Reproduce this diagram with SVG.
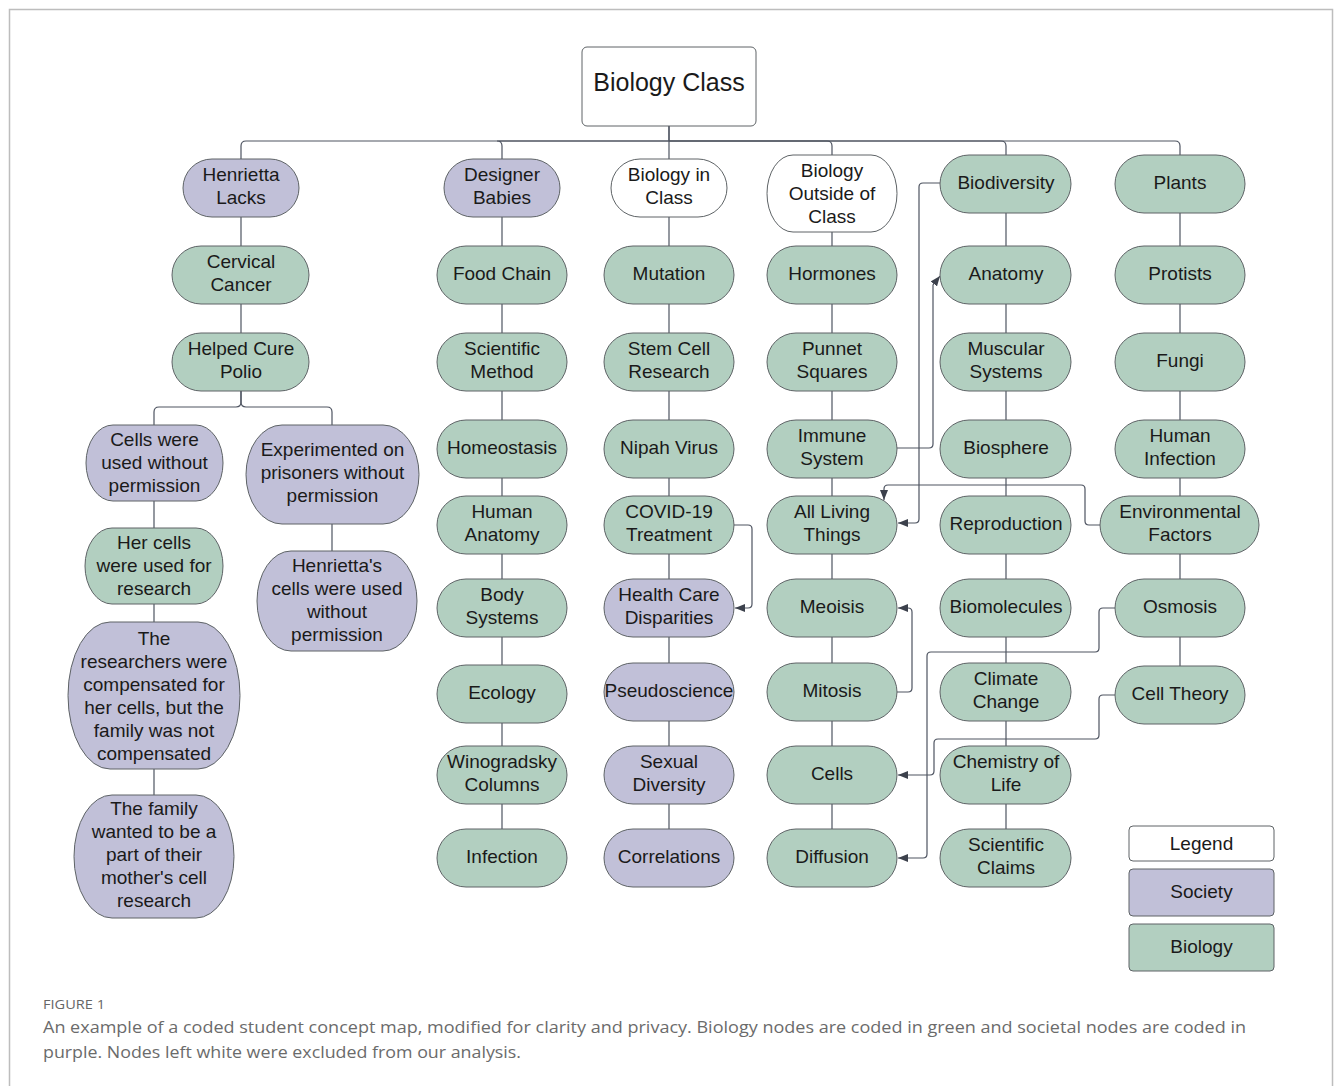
<svg xmlns="http://www.w3.org/2000/svg" width="1335" height="1086" viewBox="0 0 1335 1086">
<style>
.g{fill:#b2cfc0;stroke:#5e6366;stroke-width:1}
.p{fill:#c1c0d8;stroke:#5e6366;stroke-width:1}
.w{fill:#ffffff;stroke:#5e6366;stroke-width:1}
.t{font-family:"Liberation Sans",Arial,sans-serif;font-size:19px;fill:#1a1a1a;text-anchor:middle}
.c{fill:none;stroke:#4e5461;stroke-width:1.2}
.a{fill:none;stroke:#4e5461;stroke-width:1.2;marker-end:url(#arr)}
.cap{font-family:"Open Sans","Liberation Sans",sans-serif;fill:#6b6b6b}
</style>
<defs>
<marker id="arr" viewBox="0 0 10 8" refX="10" refY="4" markerWidth="10" markerHeight="8" markerUnits="userSpaceOnUse" orient="auto">
<path d="M0,0 L10,4 L0,8 Z" fill="#3c414c"/>
</marker>
</defs>
<rect x="0" y="0" width="1335" height="1086" fill="#ffffff"/>
<rect x="9.5" y="9.5" width="1323" height="1100" fill="none" stroke="#bdbdbd" stroke-width="1.5"/>

<g id="connectors">
<!-- root bus -->
<path class="c" d="M669,126 V141 H246 Q241,141 241,146 V159"/>
<path class="c" d="M669,141 H497 Q502,141 502,146 V159"/>
<path class="c" d="M669,126 V159"/>
<path class="c" d="M669,141 H827 Q832,141 832,146 V155"/>
<path class="c" d="M669,141 H1001 Q1006,141 1006,146 V155"/>
<path class="c" d="M669,141 H1175 Q1180,141 1180,146 V155"/>
<!-- column verticals -->
<path class="c" d="M241,217 V391"/>
<path class="c" d="M241,391 V402 Q241,407 236,407 H159 Q154,407 154,412 V425"/>
<path class="c" d="M241,391 V402 Q241,407 246,407 H327 Q332,407 332,412 V425"/>
<path class="c" d="M154,500 V795"/>
<path class="c" d="M332,524 V551"/>
<path class="c" d="M502,217 V829"/>
<path class="c" d="M669,217 V829"/>
<path class="c" d="M832,232 V829"/>
<path class="c" d="M1006,213 V829"/>
<path class="c" d="M1180,213 V666"/>
<!-- cross links -->
<path class="a" d="M734,525 H748 Q752,525 752,529 V604 Q752,608 748,608 H735"/>
<path class="a" d="M897,692 H908 Q912,692 912,688 V612 Q912,608 908,608 H898"/>
<path class="a" d="M897,448 H929 Q933,448 933,444 V285 L940,276"/>
<path class="a" d="M940,183 H923 Q919,183 919,187 V519 Q919,523 915,523 H898"/>
<path class="a" d="M1100,525 H1089 Q1085,525 1085,521 V489 Q1085,485 1081,485 H888 Q884,485 884,489 V500"/>
<path class="a" d="M1115,608 H1103 Q1099,608 1099,612 V648 Q1099,652 1095,652 H931 Q927,652 927,656 V854 Q927,858 923,858 H898"/>
<path class="a" d="M1115,695 H1103 Q1099,695 1099,699 V735 Q1099,739 1095,739 H938 Q934,739 934,743 V771 Q934,775 930,775 H898"/>
</g>

<g id="root"><rect class="w" x="582" y="47" width="174" height="79" rx="5"/><text class="t" x="669" y="91" style="font-size:25px">Biology Class</text></g>

<!-- Column A -->
<g id="henrietta-lacks"><rect class="p" x="183" y="159" width="116" height="58" rx="29"/><text class="t" x="241" y="180.5">Henrietta</text><text class="t" x="241" y="203.5">Lacks</text></g>
<g id="cervical-cancer"><rect class="g" x="172" y="246" width="137" height="58" rx="29"/><text class="t" x="241" y="267.5">Cervical</text><text class="t" x="241" y="290.5">Cancer</text></g>
<g id="helped-cure-polio"><rect class="g" x="172" y="333" width="137" height="58" rx="29"/><text class="t" x="241" y="354.5">Helped Cure</text><text class="t" x="241" y="377.5">Polio</text></g>
<g id="cells-without-permission"><rect class="p" x="86" y="425" width="137" height="76" rx="27" ry="38"/><text class="t" x="154.5" y="446">Cells were</text><text class="t" x="154.5" y="469">used without</text><text class="t" x="154.5" y="492">permission</text></g>
<g id="her-cells-research"><rect class="g" x="85" y="528" width="138" height="76" rx="27" ry="38"/><text class="t" x="154" y="549">Her cells</text><text class="t" x="154" y="572">were used for</text><text class="t" x="154" y="595">research</text></g>
<g id="researchers-compensated"><rect class="p" x="68" y="622" width="172" height="147" rx="42" ry="73.5"/><text class="t" x="154" y="645">The</text><text class="t" x="154" y="668">researchers were</text><text class="t" x="154" y="691">compensated for</text><text class="t" x="154" y="714">her cells, but the</text><text class="t" x="154" y="737">family was not</text><text class="t" x="154" y="760">compensated</text></g>
<g id="family-wanted"><rect class="p" x="74" y="795" width="160" height="123" rx="38" ry="61.5"/><text class="t" x="154" y="815">The family</text><text class="t" x="154" y="838">wanted to be a</text><text class="t" x="154" y="861">part of their</text><text class="t" x="154" y="884">mother's cell</text><text class="t" x="154" y="907">research</text></g>
<g id="experimented-prisoners"><rect class="p" x="246" y="425" width="173" height="99" rx="36" ry="49.5"/><text class="t" x="332.5" y="455.5">Experimented on</text><text class="t" x="332.5" y="478.5">prisoners without</text><text class="t" x="332.5" y="501.5">permission</text></g>
<g id="henriettas-cells"><rect class="p" x="257" y="551" width="160" height="100" rx="34" ry="50"/><text class="t" x="337" y="572">Henrietta's</text><text class="t" x="337" y="595">cells were used</text><text class="t" x="337" y="618">without</text><text class="t" x="337" y="641">permission</text></g>

<!-- Column B -->
<g id="designer-babies"><rect class="p" x="444" y="159" width="116" height="58" rx="29"/><text class="t" x="502" y="180.5">Designer</text><text class="t" x="502" y="203.5">Babies</text></g>
<g id="food-chain"><rect class="g" x="437" y="246" width="130" height="58" rx="29"/><text class="t" x="502" y="280">Food Chain</text></g>
<g id="scientific-method"><rect class="g" x="437" y="333" width="130" height="58" rx="29"/><text class="t" x="502" y="354.5">Scientific</text><text class="t" x="502" y="377.5">Method</text></g>
<g id="homeostasis"><rect class="g" x="437" y="420" width="130" height="58" rx="29"/><text class="t" x="502" y="454">Homeostasis</text></g>
<g id="human-anatomy"><rect class="g" x="437" y="496" width="130" height="58" rx="29"/><text class="t" x="502" y="517.5">Human</text><text class="t" x="502" y="540.5">Anatomy</text></g>
<g id="body-systems"><rect class="g" x="437" y="579" width="130" height="58" rx="29"/><text class="t" x="502" y="600.5">Body</text><text class="t" x="502" y="623.5">Systems</text></g>
<g id="ecology"><rect class="g" x="437" y="665" width="130" height="58" rx="29"/><text class="t" x="502" y="699">Ecology</text></g>
<g id="winogradsky-columns"><rect class="g" x="437" y="746" width="130" height="58" rx="29"/><text class="t" x="502" y="767.5">Winogradsky</text><text class="t" x="502" y="790.5">Columns</text></g>
<g id="infection"><rect class="g" x="437" y="829" width="130" height="58" rx="29"/><text class="t" x="502" y="863">Infection</text></g>

<!-- Column C -->
<g id="biology-in-class"><rect class="w" x="611" y="159" width="116" height="58" rx="29"/><text class="t" x="669" y="180.5">Biology in</text><text class="t" x="669" y="203.5">Class</text></g>
<g id="mutation"><rect class="g" x="604" y="246" width="130" height="58" rx="29"/><text class="t" x="669" y="280">Mutation</text></g>
<g id="stem-cell-research"><rect class="g" x="604" y="333" width="130" height="58" rx="29"/><text class="t" x="669" y="354.5">Stem Cell</text><text class="t" x="669" y="377.5">Research</text></g>
<g id="nipah-virus"><rect class="g" x="604" y="420" width="130" height="58" rx="29"/><text class="t" x="669" y="454">Nipah Virus</text></g>
<g id="covid-19-treatment"><rect class="g" x="604" y="496" width="130" height="58" rx="29"/><text class="t" x="669" y="517.5">COVID-19</text><text class="t" x="669" y="540.5">Treatment</text></g>
<g id="health-care-disparities"><rect class="p" x="604" y="579" width="130" height="58" rx="29"/><text class="t" x="669" y="600.5">Health Care</text><text class="t" x="669" y="623.5">Disparities</text></g>
<g id="pseudoscience"><rect class="p" x="604" y="663" width="130" height="58" rx="29"/><text class="t" x="669" y="697">Pseudoscience</text></g>
<g id="sexual-diversity"><rect class="p" x="604" y="746" width="130" height="58" rx="29"/><text class="t" x="669" y="767.5">Sexual</text><text class="t" x="669" y="790.5">Diversity</text></g>
<g id="correlations"><rect class="p" x="604" y="829" width="130" height="58" rx="29"/><text class="t" x="669" y="863">Correlations</text></g>

<!-- Column D -->
<g id="biology-outside-of-class"><rect class="w" x="767" y="155" width="130" height="77" rx="26" ry="38.5"/><text class="t" x="832" y="176.5">Biology</text><text class="t" x="832" y="199.5">Outside of</text><text class="t" x="832" y="222.5">Class</text></g>
<g id="hormones"><rect class="g" x="767" y="246" width="130" height="58" rx="29"/><text class="t" x="832" y="280">Hormones</text></g>
<g id="punnet-squares"><rect class="g" x="767" y="333" width="130" height="58" rx="29"/><text class="t" x="832" y="354.5">Punnet</text><text class="t" x="832" y="377.5">Squares</text></g>
<g id="immune-system"><rect class="g" x="767" y="420" width="130" height="58" rx="29"/><text class="t" x="832" y="441.5">Immune</text><text class="t" x="832" y="464.5">System</text></g>
<g id="all-living-things"><rect class="g" x="767" y="496" width="130" height="58" rx="29"/><text class="t" x="832" y="517.5">All Living</text><text class="t" x="832" y="540.5">Things</text></g>
<g id="meoisis"><rect class="g" x="767" y="579" width="130" height="58" rx="29"/><text class="t" x="832" y="613">Meoisis</text></g>
<g id="mitosis"><rect class="g" x="767" y="663" width="130" height="58" rx="29"/><text class="t" x="832" y="697">Mitosis</text></g>
<g id="cells"><rect class="g" x="767" y="746" width="130" height="58" rx="29"/><text class="t" x="832" y="780">Cells</text></g>
<g id="diffusion"><rect class="g" x="767" y="829" width="130" height="58" rx="29"/><text class="t" x="832" y="863">Diffusion</text></g>

<!-- Column E -->
<g id="biodiversity"><rect class="g" x="940" y="155" width="131" height="58" rx="29"/><text class="t" x="1006" y="189">Biodiversity</text></g>
<g id="anatomy"><rect class="g" x="940" y="246" width="131" height="58" rx="29"/><text class="t" x="1006" y="280">Anatomy</text></g>
<g id="muscular-systems"><rect class="g" x="940" y="333" width="131" height="58" rx="29"/><text class="t" x="1006" y="354.5">Muscular</text><text class="t" x="1006" y="377.5">Systems</text></g>
<g id="biosphere"><rect class="g" x="940" y="420" width="131" height="58" rx="29"/><text class="t" x="1006" y="454">Biosphere</text></g>
<g id="reproduction"><rect class="g" x="940" y="496" width="131" height="58" rx="29"/><text class="t" x="1006" y="530">Reproduction</text></g>
<g id="biomolecules"><rect class="g" x="940" y="579" width="131" height="58" rx="29"/><text class="t" x="1006" y="613">Biomolecules</text></g>
<g id="climate-change"><rect class="g" x="940" y="663" width="131" height="58" rx="29"/><text class="t" x="1006" y="684.5">Climate</text><text class="t" x="1006" y="707.5">Change</text></g>
<g id="chemistry-of-life"><rect class="g" x="940" y="746" width="131" height="58" rx="29"/><text class="t" x="1006" y="767.5">Chemistry of</text><text class="t" x="1006" y="790.5">Life</text></g>
<g id="scientific-claims"><rect class="g" x="940" y="829" width="131" height="58" rx="29"/><text class="t" x="1006" y="850.5">Scientific</text><text class="t" x="1006" y="873.5">Claims</text></g>

<!-- Column F -->
<g id="plants"><rect class="g" x="1115" y="155" width="130" height="58" rx="29"/><text class="t" x="1180" y="189">Plants</text></g>
<g id="protists"><rect class="g" x="1115" y="246" width="130" height="58" rx="29"/><text class="t" x="1180" y="280">Protists</text></g>
<g id="fungi"><rect class="g" x="1115" y="333" width="130" height="58" rx="29"/><text class="t" x="1180" y="367">Fungi</text></g>
<g id="human-infection"><rect class="g" x="1115" y="420" width="130" height="58" rx="29"/><text class="t" x="1180" y="441.5">Human</text><text class="t" x="1180" y="464.5">Infection</text></g>
<g id="environmental-factors"><rect class="g" x="1100" y="496" width="159" height="58" rx="29"/><text class="t" x="1180" y="517.5">Environmental</text><text class="t" x="1180" y="540.5">Factors</text></g>
<g id="osmosis"><rect class="g" x="1115" y="579" width="130" height="58" rx="29"/><text class="t" x="1180" y="613">Osmosis</text></g>
<g id="cell-theory"><rect class="g" x="1115" y="666" width="130" height="58" rx="29"/><text class="t" x="1180" y="700">Cell Theory</text></g>

<!-- Legend -->
<g id="legend">
<rect class="w" x="1129" y="826" width="145" height="35" rx="4"/><text class="t" x="1201.5" y="850">Legend</text>
<rect class="p" x="1129" y="869" width="145" height="47" rx="4"/><text class="t" x="1201.5" y="898">Society</text>
<rect class="g" x="1129" y="924" width="145" height="47" rx="4"/><text class="t" x="1201.5" y="953">Biology</text>
</g>

<g id="caption">
<text class="cap" x="43" y="1009" style="font-size:13px;fill:#666" textLength="62" lengthAdjust="spacingAndGlyphs">FIGURE 1</text>
<text class="cap" x="43" y="1033" style="font-size:17px" textLength="1203" lengthAdjust="spacingAndGlyphs">An example of a coded student concept map, modified for clarity and privacy. Biology nodes are coded in green and societal nodes are coded in</text>
<text class="cap" x="43" y="1058" style="font-size:17px" textLength="478" lengthAdjust="spacingAndGlyphs">purple. Nodes left white were excluded from our analysis.</text>
</g>
</svg>
